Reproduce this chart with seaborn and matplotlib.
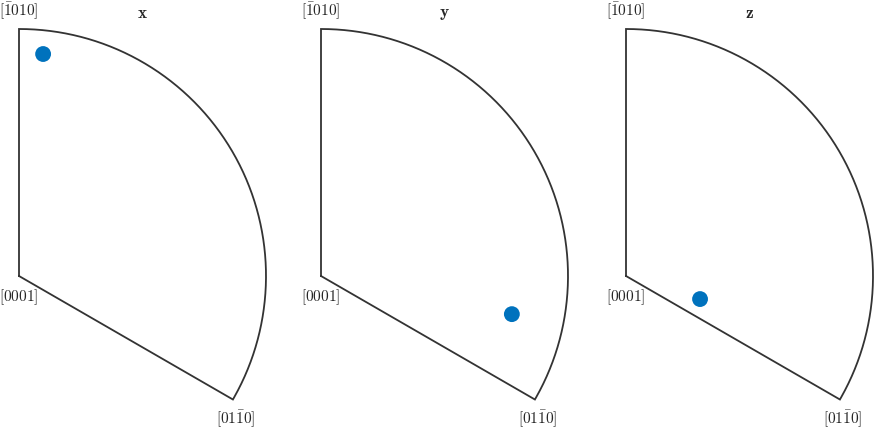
import numpy as np
import pandas as pd
import matplotlib
matplotlib.use("Agg")
import matplotlib.pyplot as plt
import seaborn as sns

# directions plotted in each inverse pole figure (polar angle in deg, radius as fraction of sector radius)
panels = ["x", "y", "z"]
point_angle = [83.8, -11.3, -17.3]
point_radius = [0.904, 0.788, 0.314]

# sector corner labels
label_top = r"$[\bar{1}010]$"
label_center = r"$[0001]$"
label_corner = r"$[01\bar{1}0]$"

sns.set_theme(style="white")
plt.rcParams["mathtext.fontset"] = "cm"
plt.rcParams["font.family"] = ["DejaVu Serif"]

W, H = 875, 429
R = 247.0  # sector radius in pixels
centers_px = [19, 321, 626]
cy_px = 276

fig = plt.figure(figsize=(W / 100, H / 100), dpi=100)

theta = np.radians(np.linspace(90, -30, 200))
for name, cx, ang, rad in zip(panels, centers_px, point_angle, point_radius):
    left = cx - 19
    width = 290
    ax = fig.add_axes([left / W, 0, width / W, 1])
    ax.set_xlim(-19 / R, (width - 19) / R)
    ax.set_ylim(-(H - cy_px) / R, cy_px / R)
    ax.axis("off")

    # boundary of the fundamental sector
    bx = np.concatenate([[0.0], np.cos(theta), [0.0]])
    by = np.concatenate([[0.0], np.sin(theta), [0.0]])
    ax.plot(bx, by, color="#333333", lw=1.3, solid_joinstyle="miter")

    pts = pd.DataFrame({"px": [rad * np.cos(np.radians(ang))],
                        "py": [rad * np.sin(np.radians(ang))]})
    sns.scatterplot(data=pts, x="px", y="py", ax=ax, s=130, color="#0072BD",
                    edgecolor="none", legend=False, clip_on=False)

    ax.text(0, 1 + 18 / R, label_top, ha="center", va="center", fontsize=11)
    ax.text(0, -21 / R, label_center, ha="center", va="center", fontsize=11)
    c30 = np.radians(-30)
    ax.text(np.cos(c30) + 3 / R, np.sin(c30) - 20 / R, label_corner,
            ha="center", va="center", fontsize=11)
    ax.text(0.5, 1 + 16 / R, r"$\mathbf{" + name + "}$", ha="center",
            va="center", fontsize=12.5)

fig.savefig("out.png", dpi=100)
plt.close(fig)
